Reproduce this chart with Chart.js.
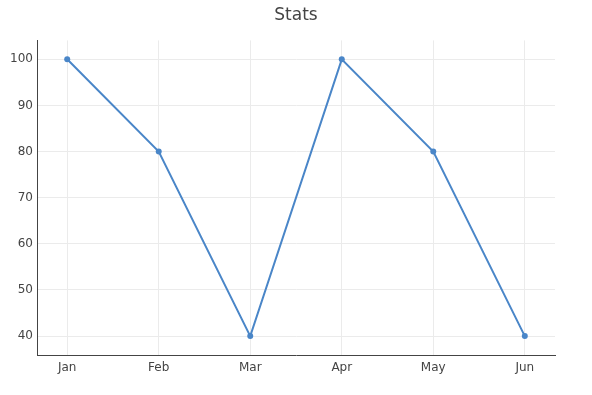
<!DOCTYPE html>
<html>
<head>
<meta charset="utf-8">
<script src="https://cdn.jsdelivr.net/npm/chart.js@4"></script>
<style>
  html, body { margin: 0; padding: 0; background: #fff; }
  #wrap { width: 592px; height: 395px; }
</style>
</head>
<body>
<div id="wrap"><canvas id="chart"></canvas></div>
<script>
// chart data
const months = ["Jan", "Feb", "Mar", "Apr", "May", "Jun"];
const stats = [100, 80, 40, 100, 80, 40];
const yTicks = [40, 50, 60, 70, 80, 90, 100];

const FONT = "'DejaVu Sans', Verdana, sans-serif";
const LINE = "#4a86c8";

new Chart(document.getElementById("chart"), {
    type: "line",
    data: {
        datasets: [
            {
                label: "Stats",
                data: stats.map((v, i) => ({ x: i, y: v })),
                borderColor: LINE,
                backgroundColor: LINE,
                borderWidth: 2,
                pointRadius: 3,
                pointBackgroundColor: LINE,
                pointBorderWidth: 0,
                tension: 0,
            },
        ],
    },
    options: {
        responsive: true,
        maintainAspectRatio: false,
        animation: false,
        layout: { padding: 0 },
        plugins: {
            legend: { display: false },
            tooltip: { enabled: false },
            title: {
                display: true,
                text: "Stats",
                color: "#444",
                font: { family: FONT, size: 17, weight: "normal" },
                padding: { top: 5, bottom: 15 },
            },
        },
        scales: {
            x: {
                type: "linear",
                min: -0.33,
                max: months.length - 1 + 0.33,
                afterBuildTicks: (s) => { s.ticks = months.map((_, i) => ({ value: i })); },
                afterFit: (s) => { s.height = 40; },
                ticks: {
                    color: "#444",
                    font: { family: FONT, size: 12 },
                    padding: 6,
                    callback: (v) => months[v],
                    maxRotation: 0,
                },
                grid: { color: "#ebebeb", drawTicks: false },
                border: { display: true, color: "#444", width: 1 },
            },
            y: {
                type: "linear",
                min: 35.9,
                max: 104.1,
                afterBuildTicks: (s) => { s.ticks = yTicks.map((v) => ({ value: v })); },
                afterFit: (s) => { s.width = 37; },
                ticks: {
                    color: "#444",
                    font: { family: FONT, size: 12 },
                    padding: 4,
                },
                grid: { color: "#ebebeb", drawTicks: false },
                border: { display: true, color: "#444", width: 1 },
            },
            // empty right-hand gutter so the title stays centred on the page
            yRight: {
                type: "linear",
                position: "right",
                min: 35.9,
                max: 104.1,
                afterFit: (s) => { s.width = 37; },
                ticks: { display: false },
                grid: { display: false },
                border: { display: false },
            },
        },
    },
});
</script>
</body>
</html>
